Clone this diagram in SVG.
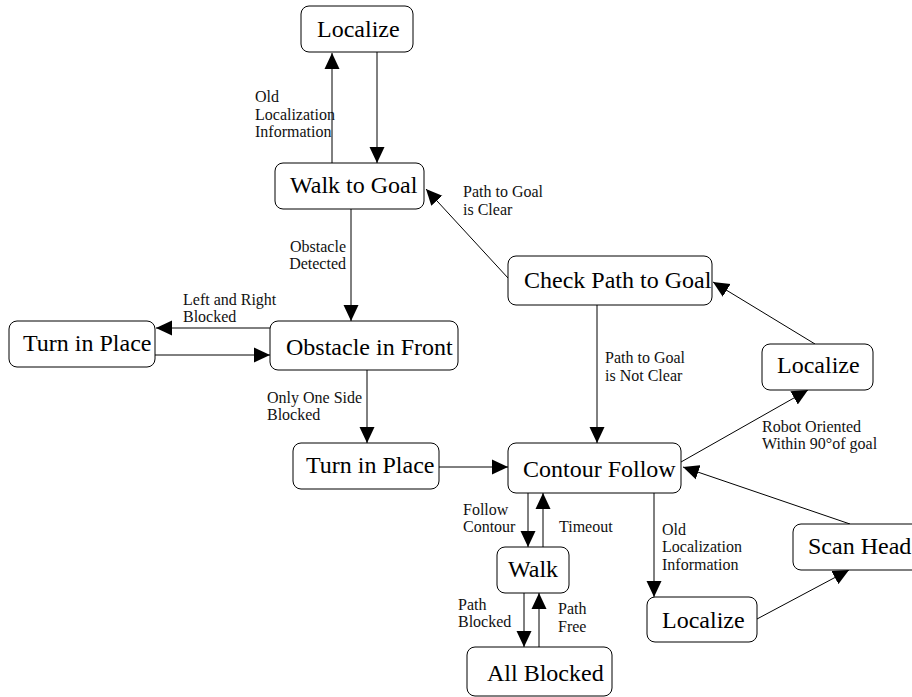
<svg xmlns="http://www.w3.org/2000/svg" width="912" height="697" viewBox="0 0 912 697">
<style>
.node rect{fill:#fff;stroke:#000;stroke-width:1}
.node text{font-family:"Liberation Serif","Times New Roman",serif;font-size:24px;fill:#000}
.lbl{font-family:"Liberation Serif","Times New Roman",serif;font-size:16px;fill:#111}
#connectors line{stroke:#000;stroke-width:1;marker-end:url(#ah)}
</style>
<defs>
<marker id="ah" markerUnits="userSpaceOnUse" markerWidth="16" markerHeight="16" viewBox="0 0 16 16" refX="16" refY="8" orient="auto">
<path d="M0,0.5 L16,8 L0,15.5 Z" fill="#000"/>
</marker>
</defs>
<rect width="912" height="697" fill="#fff"/>
<g id="connectors">
<line x1="332" y1="163" x2="332" y2="53"/>
<line x1="377" y1="52" x2="377" y2="163"/>
<line x1="351" y1="209" x2="351" y2="321"/>
<line x1="270" y1="328" x2="156" y2="328"/>
<line x1="155" y1="355" x2="270" y2="355"/>
<line x1="367" y1="370" x2="367" y2="443"/>
<line x1="439" y1="467" x2="508" y2="467"/>
<line x1="508" y1="278" x2="426" y2="189"/>
<line x1="597" y1="305" x2="597" y2="443"/>
<line x1="681" y1="462" x2="808" y2="390"/>
<line x1="815" y1="344" x2="713" y2="282"/>
<line x1="528" y1="493" x2="528" y2="547"/>
<line x1="543" y1="547" x2="543" y2="493"/>
<line x1="524" y1="593" x2="524" y2="647"/>
<line x1="539" y1="647" x2="539" y2="593"/>
<line x1="654" y1="493" x2="654" y2="597"/>
<line x1="757" y1="619" x2="849" y2="570"/>
<line x1="850" y1="524" x2="683" y2="467"/>
</g>
<g id="labels">
<text class="lbl" x="255" y="102">Old</text>
<text class="lbl" x="255" y="119.5">Localization</text>
<text class="lbl" x="255" y="137">Information</text>
<text class="lbl" x="346" y="252" text-anchor="end">Obstacle</text>
<text class="lbl" x="346" y="269" text-anchor="end">Detected</text>
<text class="lbl" x="183" y="305">Left and Right</text>
<text class="lbl" x="183" y="322">Blocked</text>
<text class="lbl" x="267" y="403">Only One Side</text>
<text class="lbl" x="267" y="420">Blocked</text>
<text class="lbl" x="463" y="197">Path to Goal</text>
<text class="lbl" x="463" y="215">is Clear</text>
<text class="lbl" x="605" y="363">Path to Goal</text>
<text class="lbl" x="605" y="381">is Not Clear</text>
<text class="lbl" x="762" y="432">Robot Oriented</text>
<text class="lbl" x="762" y="449">Within 90°of goal</text>
<text class="lbl" x="463" y="515">Follow</text>
<text class="lbl" x="463" y="532">Contour</text>
<text class="lbl" x="559" y="532">Timeout</text>
<text class="lbl" x="458" y="610">Path</text>
<text class="lbl" x="458" y="627">Blocked</text>
<text class="lbl" x="558" y="614">Path</text>
<text class="lbl" x="558" y="632">Free</text>
<text class="lbl" x="662" y="535">Old</text>
<text class="lbl" x="662" y="552">Localization</text>
<text class="lbl" x="662" y="570">Information</text>
</g>
<g id="n_localize_top" class="node"><rect x="301" y="6" width="112" height="46" rx="8"/><text x="317" y="37">Localize</text></g>
<g id="n_walk_to_goal" class="node"><rect x="275" y="163" width="149" height="46" rx="8"/><text x="290" y="193">Walk to Goal</text></g>
<g id="n_obstacle" class="node"><rect x="270" y="321" width="188" height="49" rx="8"/><text x="286" y="355">Obstacle in Front</text></g>
<g id="n_turn_left" class="node"><rect x="9" y="321" width="146" height="46" rx="8"/><text x="23" y="351">Turn in Place</text></g>
<g id="n_turn_mid" class="node"><rect x="293" y="443" width="146" height="46" rx="8"/><text x="306" y="473">Turn in Place</text></g>
<g id="n_contour" class="node"><rect x="508" y="443" width="173" height="50" rx="8"/><text x="523" y="477">Contour Follow</text></g>
<g id="n_walk" class="node"><rect x="497" y="547" width="72" height="46" rx="8"/><text x="508" y="577">Walk</text></g>
<g id="n_all_blocked" class="node"><rect x="467" y="647" width="145" height="49" rx="8"/><text x="487" y="681">All Blocked</text></g>
<g id="n_check" class="node"><rect x="508" y="256" width="204" height="49" rx="8"/><text x="524" y="288">Check Path to Goal</text></g>
<g id="n_localize_right" class="node"><rect x="762" y="344" width="111" height="46" rx="8"/><text x="777" y="373">Localize</text></g>
<g id="n_localize_bottom" class="node"><rect x="647" y="597" width="110" height="45" rx="8"/><text x="662" y="628">Localize</text></g>
<g id="n_scan_head" class="node"><rect x="793" y="524" width="140" height="46" rx="8"/><text x="808" y="554">Scan Head</text></g>
</svg>
